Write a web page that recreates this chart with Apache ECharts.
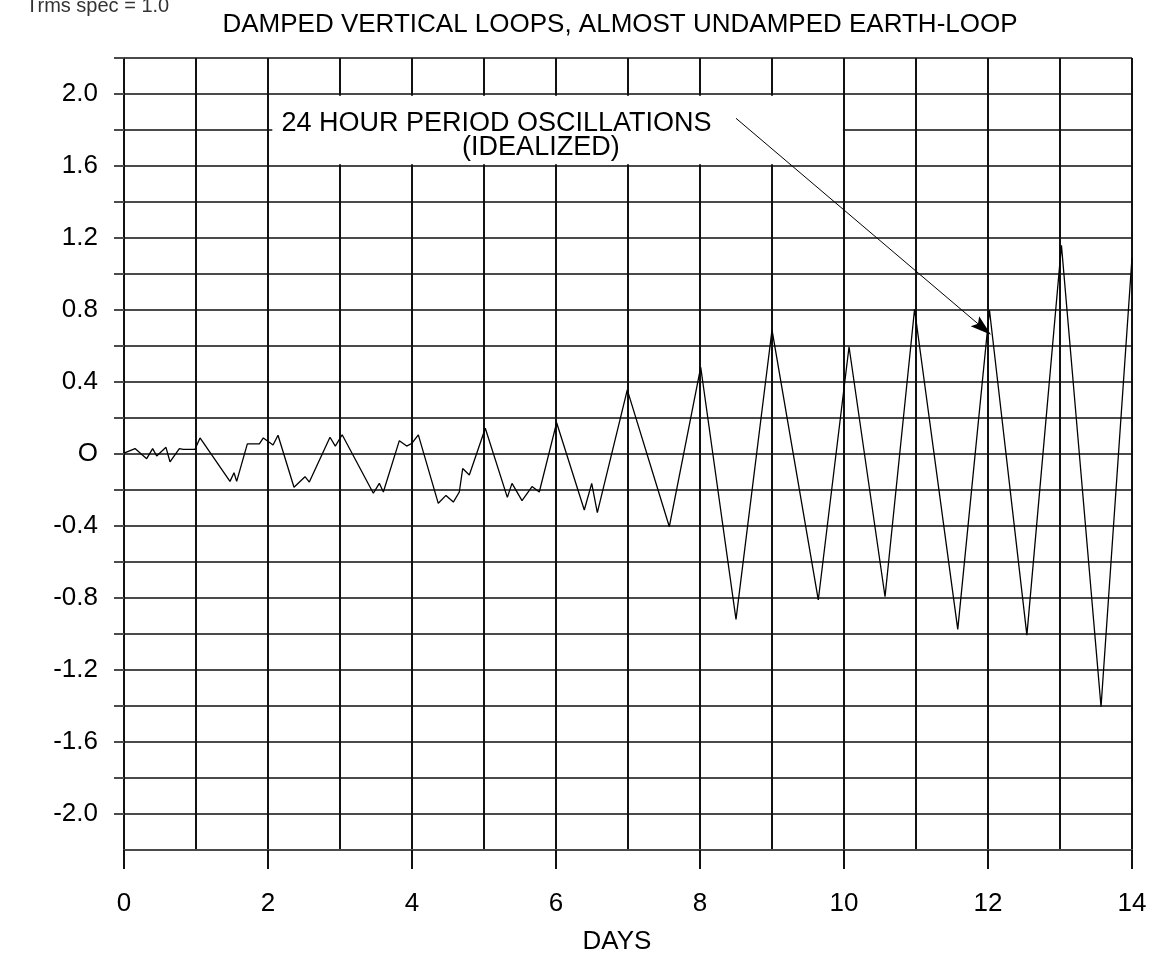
<!DOCTYPE html>
<html>
<head>
<meta charset="utf-8">
<script src="https://cdn.jsdelivr.net/npm/echarts@6/dist/echarts.min.js"></script>
<style>
  html, body { margin: 0; padding: 0; background: #fff; }
  #chart { width: 1163px; height: 967px; }
</style>
</head>
<body>
<div id="chart"></div>
<script>
// Simulated vertical error over two weeks (days, error)
const days = [
  0, 0.153, 0.315, 0.398, 0.454, 0.583, 0.639, 0.769, 0.824, 0.986,
  1.056, 1.472, 1.528, 1.565, 1.713, 1.88, 1.935, 2.07, 2.139, 2.361,
  2.514, 2.574, 2.861, 2.935, 3.03, 3.463, 3.546, 3.602, 3.824, 3.926,
  4.0, 4.088, 4.365, 4.472, 4.574, 4.657, 4.704, 4.796, 5.018, 5.324,
  5.389, 5.528, 5.667, 5.768, 6.009, 6.393, 6.496, 6.574, 6.99, 7.574,
  8.01, 8.5, 9.0, 9.643, 10.07, 10.57, 10.98, 11.58, 12.02, 12.54,
  13.02, 13.57, 14.0
];
const errorValues = [
  0.005, 0.03, -0.026, 0.03, -0.011, 0.037, -0.044, 0.03, 0.026, 0.026,
  0.089, -0.152, -0.104, -0.152, 0.056, 0.056, 0.089, 0.05, 0.104, -0.185,
  -0.126, -0.156, 0.093, 0.044, 0.107, -0.218, -0.163, -0.211, 0.074, 0.044,
  0.06, 0.106, -0.274, -0.23, -0.267, -0.211, -0.081, -0.117, 0.143, -0.241,
  -0.163, -0.259, -0.181, -0.211, 0.174, -0.311, -0.163, -0.326, 0.356, -0.404,
  0.482, -0.919, 0.689, -0.811, 0.596, -0.793, 0.804, -0.974, 0.80, -1.006,
  1.16, -1.404, 1.09
];

const yTickValues = [-2.0, -1.6, -1.2, -0.8, -0.4, 0, 0.4, 0.8, 1.2, 1.6, 2.0];
const yTickLabels = ['-2.0', '-1.6', '-1.2', '-0.8', '-0.4', 'O', '0.4', '0.8', '1.2', '1.6', '2.0'];
const yMinorTicks = [-2.0, -1.8, -1.6, -1.4, -1.2, -1.0, -0.8, -0.6, -0.4, -0.2, 0,
                     0.2, 0.4, 0.6, 0.8, 1.0, 1.2, 1.4, 1.6, 1.8, 2.0, 2.2];
const xTickValues = [0, 2, 4, 6, 8, 10, 12, 14];
const xTickLabels = ['0', '2', '4', '6', '8', '10', '12', '14'];

const titleText = 'DAMPED VERTICAL LOOPS, ALMOST UNDAMPED EARTH-LOOP';
const noteText = 'Trms spec = 1.0';
const xName = 'DAYS';
const calloutLine1 = '24 HOUR PERIOD OSCILLATIONS';
const calloutLine2 = '(IDEALIZED)';

const FONT = '"Liberation Sans", Arial, Helvetica, sans-serif';
const HGRID = '#4a4a4a';
const VGRID = '#111111';

// slim filled arrowhead, tip pointing up before rotation
const ARROW_HEAD = 'path://M6.5,0 L13,21 L6.5,17 L0,21 Z';

const chart = echarts.init(document.getElementById('chart'), null, { renderer: 'canvas' });

function labelFor(values, labels) {
  return function (v) {
    const i = values.findIndex(t => Math.abs(t - v) < 1e-6);
    return i >= 0 ? labels[i] : '';
  };
}

const option = {
  animation: false,
  backgroundColor: '#ffffff',
  grid: { left: 124, right: 31, top: 58, bottom: 117, containLabel: false },
  xAxis: [
    {
      type: 'value', min: 0, max: 14, interval: 1, position: 'bottom', offset: 0,
      axisLine: { show: true, onZero: false, lineStyle: { color: HGRID, width: 2 } },
      axisTick: { show: false },
      axisLabel: { show: false },
      splitLine: { show: true, lineStyle: { color: VGRID, width: 2 } }
    },
    {
      type: 'value', min: 0, max: 14, interval: 2, position: 'bottom', offset: 0,
      axisLine: { show: false, onZero: false },
      axisTick: { show: true, length: 19, lineStyle: { color: VGRID, width: 2 } },
      axisLabel: {
        show: true, margin: 41, fontSize: 26, color: '#000', fontFamily: FONT,
        formatter: labelFor(xTickValues, xTickLabels)
      },
      splitLine: { show: false }
    }
  ],
  yAxis: {
    type: 'value', min: -2.2, max: 2.2, interval: 0.2,
    axisLine: { show: false },
    axisTick: {
      show: true, length: 10, customValues: yMinorTicks,
      lineStyle: { color: HGRID, width: 2 }
    },
    axisLabel: {
      show: true, margin: 26, fontSize: 26, color: '#000', fontFamily: FONT,
      customValues: yTickValues,
      formatter: labelFor(yTickValues, yTickLabels)
    },
    splitLine: { show: true, lineStyle: { color: HGRID, width: 2 } }
  },
  series: [
    {
      type: 'line',
      xAxisIndex: 0,
      data: days.map((d, i) => [d, errorValues[i]]),
      showSymbol: false,
      symbol: 'none',
      lineStyle: { color: '#000', width: 1.3 },
      silent: true,
      markArea: {
        silent: true,
        itemStyle: { color: '#ffffff', opacity: 1, borderWidth: 0 },
        label: { show: false },
        data: [[{ coord: [2.06, 1.99] }, { coord: [9.985, 1.61] }]]
      },
      markLine: {
        silent: true,
        symbol: ['none', ARROW_HEAD],
        symbolSize: 21,
        symbolKeepAspect: true,
        lineStyle: { color: '#000', width: 1, type: 'solid' },
        itemStyle: { color: '#000' },
        label: { show: false },
        data: [[{ coord: [8.5, 1.865] }, { coord: [11.93, 0.70] }]]
      },
      markPoint: {
        silent: true,
        symbol: 'circle',
        symbolSize: 0,
        label: { show: true, position: 'inside', color: '#000', fontSize: 27, fontFamily: FONT },
        data: [
          { coord: [5.174, 1.838], label: { formatter: calloutLine1 } },
          { coord: [5.79, 1.70], label: { formatter: calloutLine2 } }
        ]
      }
    }
  ],
  graphic: [
    {
      type: 'text', x: 620, y: 25,
      style: { text: titleText, font: '26px ' + FONT, fill: '#000', textAlign: 'center', textVerticalAlign: 'middle' }
    },
    {
      type: 'text', x: 26, y: 16,
      style: { text: noteText, font: '20px ' + FONT, fill: '#333', textAlign: 'left', textVerticalAlign: 'bottom' }
    },
    {
      type: 'text', x: 617, y: 942,
      style: { text: xName, font: '26px ' + FONT, fill: '#000', textAlign: 'center', textVerticalAlign: 'middle' }
    }
  ]
};

chart.setOption(option);
</script>
</body>
</html>
